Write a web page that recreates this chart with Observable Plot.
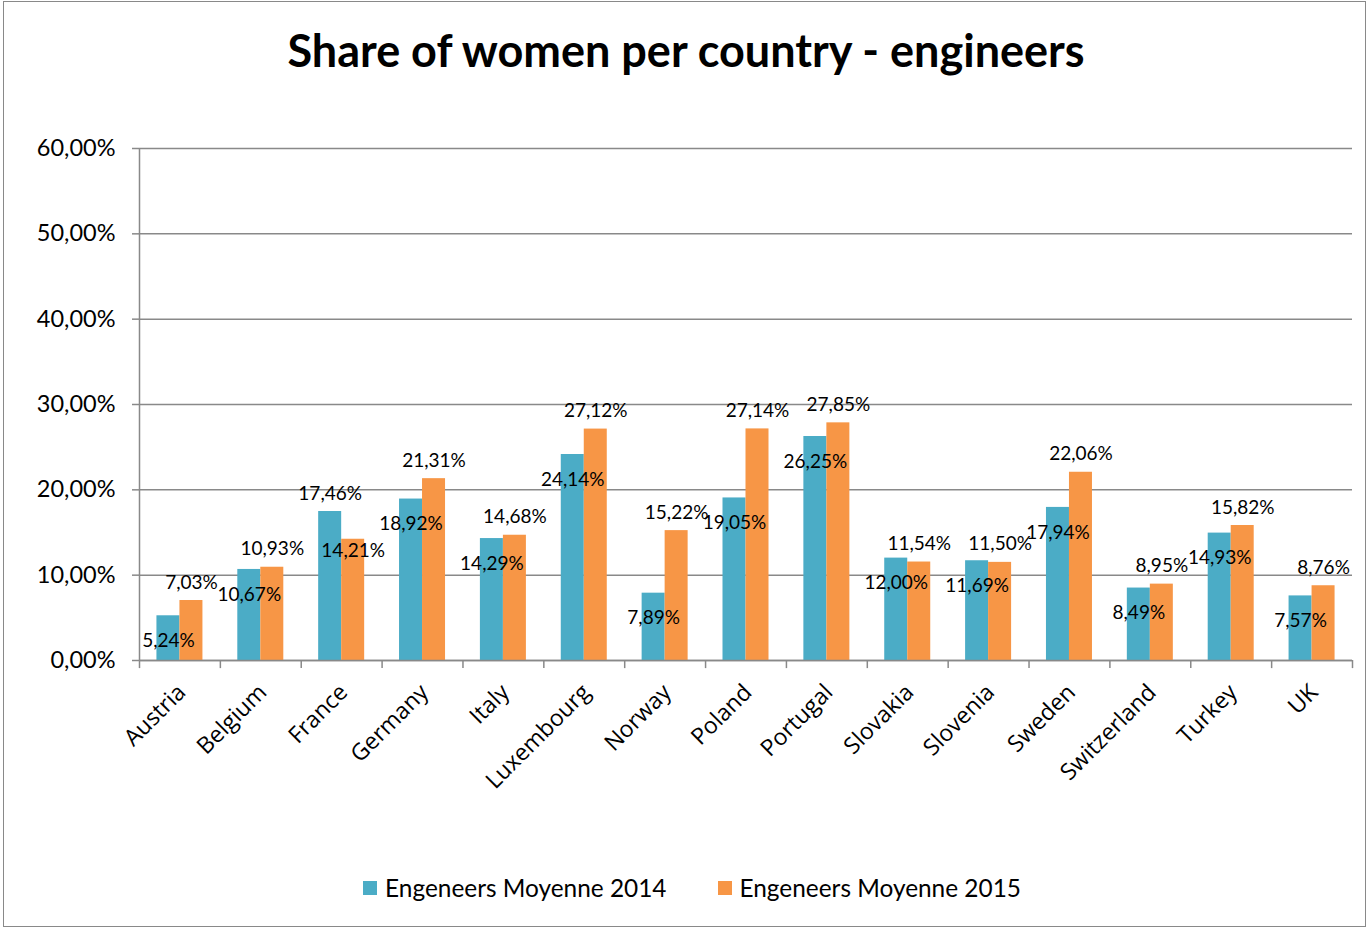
<!DOCTYPE html>
<html>
<head>
<meta charset="utf-8">
<script src="https://cdn.jsdelivr.net/npm/d3@7"></script>
<script src="https://cdn.jsdelivr.net/npm/@observablehq/plot@0.6"></script>
<style>
  html, body { margin: 0; padding: 0; background: #fff; }
  #frame { position: absolute; left: 3px; top: 1px; width: 1363px; height: 926px; border: 1.5px solid #898989; box-sizing: border-box; background: #fff; }
  #title { position: absolute; left: 0; top: 22px; width: 1372px; text-align: center; font-family: Lato, sans-serif; font-weight: 700; font-size: 45px; line-height: 56px; color: #000; }
  #chart { position: absolute; left: 0; top: 100px; }
  #legend { position: absolute; left: 0; top: 873px; width: 1384px; display: flex; justify-content: center; gap: 51px; font-family: Lato, sans-serif; font-size: 24.4px; color: #000; }
  .item { display: flex; align-items: center; gap: 8px; }
  .sw { width: 14px; height: 14px; display: inline-block; }
</style>
</head>
<body>
<div id="frame"></div>
<div id="title">Share of women per country - engineers</div>
<div id="chart"></div>
<div id="legend"></div>
<script>
const countries = ["Austria","Belgium","France","Germany","Italy","Luxembourg","Norway","Poland","Portugal","Slovakia","Slovenia","Sweden","Switzerland","Turkey","UK"];
const values2014 = [5.24,10.67,17.46,18.92,14.29,24.14,7.89,19.05,26.25,12.00,11.69,17.94,8.49,14.93,7.57];
const values2015 = [7.03,10.93,14.21,21.31,14.68,27.12,15.22,27.14,27.85,11.54,11.50,22.06,8.95,15.82,8.76];
const seriesNames = ["Engeneers Moyenne 2014","Engeneers Moyenne 2015"];
const seriesColors = ["#4BACC6","#F79646"];
const yTicks = [0,10,20,30,40,50,60];

const fmt = v => v.toFixed(2).replace(".", ",") + "%";
const rows2014 = countries.map((c, i) => ({country: c, series: seriesNames[0], value: values2014[i], other: values2015[i]}));
const rows2015 = countries.map((c, i) => ({country: c, series: seriesNames[1], value: values2015[i], other: values2014[i]}));
// label placement rule: the taller bar of a pair that clearly outgrows the other gets its label above;
// by default 2014 labels sit inside the bar end, 2015 labels sit above it.
const above2014 = d => d.value - d.other > 2;
const inside2015 = d => d.other - d.value > 2;

const W = 1370, H = 700, mL = 139, mR = 18, mT = 48, mB = 140;
const bw = (W - mL - mR) / countries.length;
const barW = 23;
const grey = "#898989";
const labelFont = 19;

const chart = Plot.plot({
  width: W, height: H,
  marginLeft: mL, marginRight: mR, marginTop: mT, marginBottom: mB,
  style: {fontFamily: "Lato, sans-serif", color: "#000", background: "transparent", overflow: "visible"},
  x: {domain: countries, padding: 0, round: false, label: null},
  y: {domain: [0, 60], label: null},
  color: {domain: seriesNames, range: seriesColors},
  marks: [
    Plot.gridY(yTicks, {stroke: grey, strokeOpacity: 1, strokeWidth: 1.5}),
    Plot.axisY(yTicks, {tickFormat: fmt, tickSize: 7, tickPadding: 17, stroke: grey, fill: "#000", fontSize: 23.5, label: null, strokeWidth: 1.5}),
    Plot.barY(rows2014, {x: "country", y: "value", fill: "series", insetLeft: bw / 2 - barW, insetRight: bw / 2}),
    Plot.barY(rows2015, {x: "country", y: "value", fill: "series", insetLeft: bw / 2, insetRight: bw / 2 - barW}),
    Plot.ruleY([0], {stroke: grey, strokeWidth: 1.5}),
    Plot.ruleX([countries[0]], {y1: 0, y2: 60, dx: -bw / 2, stroke: grey, strokeWidth: 1.5}),
    Plot.ruleX(countries, {x: d => d, y1: 0, y2: -0.95, dx: -bw / 2, stroke: grey, strokeWidth: 1.5}),
    Plot.ruleX([countries[countries.length - 1]], {y1: 0, y2: -0.95, dx: bw / 2, stroke: grey, strokeWidth: 1.5}),
    Plot.text(rows2014.filter(d => !above2014(d)), {x: "country", y: "value", text: d => fmt(d.value), dx: -barW / 2, dy: 25, fontSize: labelFont, fill: "#000"}),
    Plot.text(rows2014.filter(above2014), {x: "country", y: "value", text: d => fmt(d.value), dx: -barW / 2, dy: -18, fontSize: labelFont, fill: "#000"}),
    Plot.text(rows2015.filter(d => !inside2015(d)), {x: "country", y: "value", text: d => fmt(d.value), dx: barW / 2, dy: -18, fontSize: labelFont, fill: "#000"}),
    Plot.text(rows2015.filter(inside2015), {x: "country", y: "value", text: d => fmt(d.value), dx: barW / 2, dy: 12, fontSize: labelFont, fill: "#000"}),
    Plot.axisX({tickRotate: -45, tickSize: 0, tickPadding: 28, fontSize: 23, label: null, fontFamily: "'Open Sans', sans-serif", dx: 2, dy: 0})
  ]
});
document.getElementById("chart").appendChild(chart);

const legend = document.getElementById("legend");
seriesNames.forEach((name, i) => {
  const item = document.createElement("div");
  item.className = "item";
  const sw = document.createElement("span");
  sw.className = "sw";
  sw.style.background = seriesColors[i];
  const label = document.createElement("span");
  label.textContent = name;
  item.appendChild(sw);
  item.appendChild(label);
  legend.appendChild(item);
});
</script>
</body>
</html>
